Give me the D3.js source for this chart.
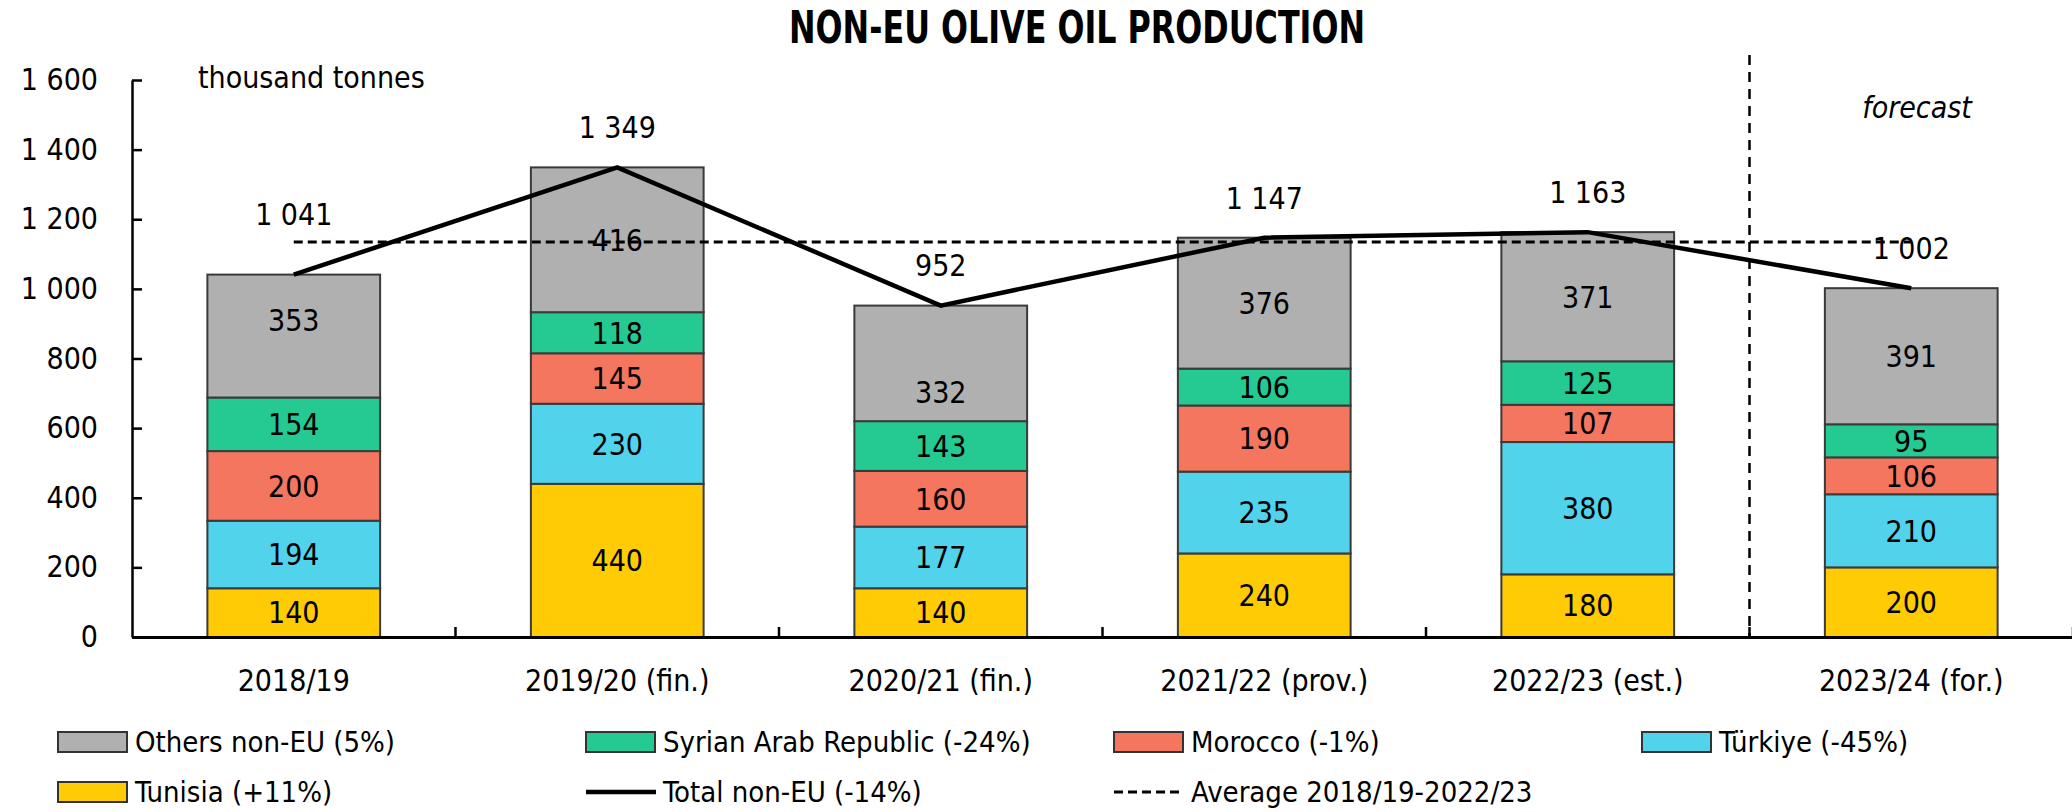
<!DOCTYPE html>
<html>
<head>
<meta charset="utf-8">
<script src="https://cdn.jsdelivr.net/npm/d3@7"></script>
<style>
  body { margin: 0; background: #fff; }
  svg text { font-family: "DejaVu Sans Condensed", "DejaVu Sans", sans-serif; font-stretch: condensed; fill: #000; }
</style>
</head>
<body>
<svg id="chart" width="2072" height="812"></svg>
<script>
// data (thousand tonnes)
var categories = ["2018/19", "2019/20 (fin.)", "2020/21 (fin.)", "2021/22 (prov.)", "2022/23 (est.)", "2023/24 (for.)"];
var tunisia = [140, 440, 140, 240, 180, 200];
var turkiye = [194, 230, 177, 235, 380, 210];
var morocco = [200, 145, 160, 190, 107, 106];
var syria   = [154, 118, 143, 106, 125, 95];
var others  = [353, 416, 332, 376, 371, 391];
var totals  = [1041, 1349, 952, 1147, 1163, 1002];
var average = 1135;
var yTicks  = [0, 200, 400, 600, 800, 1000, 1200, 1400, 1600];

var seriesKeys   = ["tunisia", "turkiye", "morocco", "syria", "others"];
var seriesLabels = {
  others: "Others non-EU (5%)",
  syria: "Syrian Arab Republic (-24%)",
  morocco: "Morocco (-1%)",
  turkiye: "Türkiye (-45%)",
  tunisia: "Tunisia (+11%)"
};
var totalLabel   = "Total non-EU (-14%)";
var averageLabel = "Average 2018/19-2022/23";
var colors = {
  tunisia: "#ffcb05",
  turkiye: "#52d3ec",
  morocco: "#f4765e",
  syria:   "#25ca92",
  others:  "#b0b0b0"
};

var svg = d3.select("#chart");
var fmt = d3.formatLocale({decimal: ".", thousands: " ", grouping: [3], currency: ["", ""]}).format(",");

// rows for stacking
var rows = categories.map(function(c, i){
  return {cat: c, tunisia: tunisia[i], turkiye: turkiye[i], morocco: morocco[i], syria: syria[i], others: others[i], total: totals[i]};
});
var stacked = d3.stack().keys(seriesKeys)(rows);

//scales
var xScale = d3.scaleBand()
               .domain(categories)
               .range([132, 2073])
               .paddingInner(0.466)
               .paddingOuter(0.233);
var yScale = d3.scaleLinear()
               .domain([0, 1600])
               .range([637, 80]);
var step = xScale.step();
var cx = function(c){ return xScale(c) + xScale.bandwidth()/2; };

//title
svg.append("text")
   .attr("x", 1077)
   .attr("y", 43)
   .attr("text-anchor", "middle")
   .attr("textLength", 576)
   .attr("lengthAdjust", "spacingAndGlyphs")
   .style("font-size", "44px")
   .style("font-weight", "bold")
   .text("NON-EU OLIVE OIL PRODUCTION");

svg.append("text")
   .attr("x", 198)
   .attr("y", 88)
   .style("font-size", "30px")
   .text("thousand tonnes");

//bars
var layers = svg.append("g").attr("id", "bars")
                .selectAll("g")
                .data(stacked)
                .enter()
                .append("g")
                .attr("fill", function(d){ return colors[d.key]; });
layers.selectAll("rect")
      .data(function(d){ return d; })
      .enter()
      .append("rect")
      .attr("x", function(d){ return xScale(d.data.cat); })
      .attr("width", xScale.bandwidth())
      .attr("y", function(d){ return yScale(d[1]); })
      .attr("height", function(d){ return yScale(d[0]) - yScale(d[1]); })
      .attr("stroke", "#3a3a3a")
      .attr("stroke-width", 2);

// a couple of labels are nudged in the original
var nudge = {"others|2018/19": -16, "others|2020/21 (fin.)": 29};
layers.selectAll("text")
      .data(function(d){ return d.map(function(p){ p.key = d.key; return p; }); })
      .enter()
      .append("text")
      .attr("x", function(d){ return cx(d.data.cat); })
      .attr("y", function(d){
        return (yScale(d[0]) + yScale(d[1]))/2 + (nudge[d.key + "|" + d.data.cat] || 0);
      })
      .attr("dy", "0.36em")
      .attr("text-anchor", "middle")
      .style("font-size", "30px")
      .text(function(d){ return fmt(d[1] - d[0]); });

//axes
var yx = svg.append("g")
            .attr("transform", "translate(132,0)")
            .call(d3.axisLeft(yScale)
                    .tickValues(yTicks)
                    .tickSizeInner(-10)
                    .tickSizeOuter(0)
                    .tickPadding(34)
                    .tickFormat(fmt));
yx.selectAll("path, line").attr("stroke", "#000").attr("stroke-width", 2.5);
yx.selectAll("text").style("font-size", "30px");

var xx = svg.append("g")
            .attr("transform", "translate(0,637)")
            .call(d3.axisBottom(xScale)
                    .tickSize(0)
                    .tickPadding(33));
xx.select("path").attr("stroke", "#000").attr("stroke-width", 3);
xx.selectAll("text").style("font-size", "30px");
svg.selectAll(".tick text").attr("fill", null);
svg.selectAll("g").attr("font-family", null).attr("font-size", null);

// boundary ticks between categories
xx.selectAll(".bound")
  .data(categories)
  .enter()
  .append("line")
  .attr("class", "bound")
  .attr("x1", function(c){ return xScale(c) + xScale.bandwidth() + step*0.233; })
  .attr("x2", function(c){ return xScale(c) + xScale.bandwidth() + step*0.233; })
  .attr("y1", 0)
  .attr("y2", -10)
  .attr("stroke", "#000")
  .attr("stroke-width", 2.5);

// forecast divider
var divX = xScale(categories[5]) - step*0.233;
svg.append("line")
   .attr("x1", divX).attr("x2", divX)
   .attr("y1", 55).attr("y2", 637)
   .attr("stroke", "#000")
   .attr("stroke-width", 2.5)
   .attr("stroke-dasharray", "10,7");
svg.append("text")
   .attr("x", 1917)
   .attr("y", 118)
   .attr("text-anchor", "middle")
   .style("font-size", "30px")
   .style("font-style", "italic")
   .text("forecast");

// average line
svg.append("line")
   .attr("x1", cx(categories[0]))
   .attr("x2", cx(categories[5]))
   .attr("y1", yScale(average))
   .attr("y2", yScale(average))
   .attr("stroke", "#000")
   .attr("stroke-width", 3)
   .attr("stroke-dasharray", "9,5");

// total line
var line = d3.line()
             .x(function(d){ return cx(d.cat); })
             .y(function(d){ return yScale(d.total); });
svg.append("path")
   .datum(rows)
   .attr("d", line)
   .attr("fill", "none")
   .attr("stroke", "#000")
   .attr("stroke-width", 4.5);

var totalNudge = {"2018/19": -20};
svg.append("g").attr("id", "totals")
   .selectAll("text")
   .data(rows)
   .enter()
   .append("text")
   .attr("x", function(d){ return cx(d.cat); })
   .attr("y", function(d){ return yScale(d.total) - 40 + (totalNudge[d.cat] || 0); })
   .attr("dy", "0.36em")
   .attr("text-anchor", "middle")
   .style("font-size", "30px")
   .text(function(d){ return fmt(d.total); });

//legend
var legendItems = [
  {type: "rect", key: "others",  label: seriesLabels.others,  col: 0, row: 0},
  {type: "rect", key: "syria",   label: seriesLabels.syria,   col: 1, row: 0},
  {type: "rect", key: "morocco", label: seriesLabels.morocco, col: 2, row: 0},
  {type: "rect", key: "turkiye", label: seriesLabels.turkiye, col: 3, row: 0},
  {type: "rect", key: "tunisia", label: seriesLabels.tunisia, col: 0, row: 1},
  {type: "line", label: totalLabel,   col: 1, row: 1},
  {type: "dash", label: averageLabel, col: 2, row: 1}
];
var leg = svg.append("g").attr("id", "legend")
             .selectAll("g")
             .data(legendItems)
             .enter()
             .append("g")
             .attr("transform", function(d){ return "translate(" + (58 + d.col*528) + "," + (742 + d.row*50) + ")"; });
leg.filter(function(d){ return d.type == "rect"; })
   .append("rect")
   .attr("x", 0).attr("y", -10)
   .attr("width", 69).attr("height", 20)
   .attr("fill", function(d){ return colors[d.key]; })
   .attr("stroke", "#333")
   .attr("stroke-width", 2);
leg.filter(function(d){ return d.type != "rect"; })
   .append("line")
   .attr("x1", 0).attr("x2", 70)
   .attr("y1", 0).attr("y2", 0)
   .attr("stroke", "#000")
   .attr("stroke-width", function(d){ return d.type == "line" ? 4.5 : 3; })
   .attr("stroke-dasharray", function(d){ return d.type == "dash" ? "9,5" : null; });
leg.append("text")
   .attr("x", 77)
   .attr("y", 0)
   .attr("dy", "0.36em")
   .style("font-size", "29px")
   .text(function(d){ return d.label; });
</script>
</body>
</html>
